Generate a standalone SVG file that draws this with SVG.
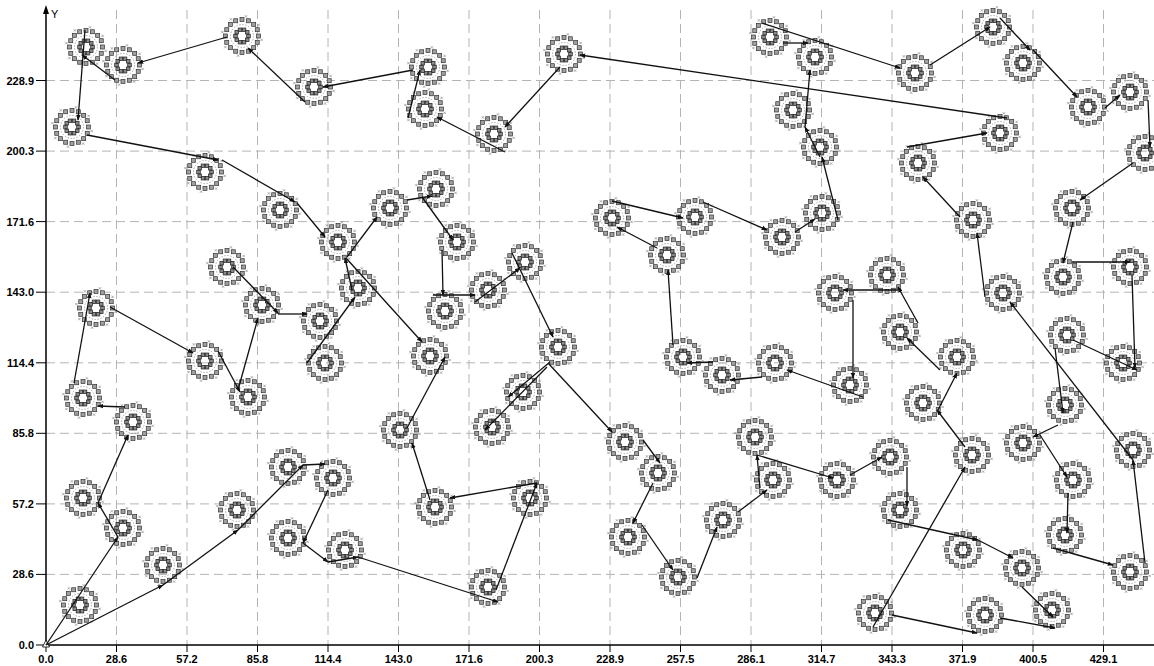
<svg xmlns="http://www.w3.org/2000/svg" xmlns:xlink="http://www.w3.org/1999/xlink" width="1154" height="666" viewBox="0 0 1154 666">
<style>
.g{stroke:#b4b4b4;stroke-width:1;stroke-dasharray:9 5;fill:none}
.ax{stroke:#000;stroke-width:1.5;fill:none}
.tk{stroke:#000;stroke-width:1}
.e{stroke:#111;stroke-width:1.3;fill:none;marker-end:url(#ah)}
.t{font-family:"Liberation Sans",Arial,sans-serif;font-size:11px;font-weight:bold;fill:#000}
.sq{fill:#a0a0a0;stroke:#333;stroke-width:0.7}
.sqi{fill:#8a8a8a;stroke:#222;stroke-width:0.7}
.cx{stroke:#777;stroke-width:0.6;fill:none}
</style>
<defs>
<marker id="ah" viewBox="0 0 8 8" refX="7" refY="4" markerWidth="6" markerHeight="6" orient="auto" markerUnits="userSpaceOnUse"><path d="M0,1L8,4L0,7z" fill="#111"/></marker>
<g id="nd">
<circle r="11.5" fill="none" stroke="#777" stroke-width="0.6" stroke-dasharray="1.5 1.5"/>
<circle r="6.5" fill="none" stroke="#111" stroke-width="1.7"/>
<g class="sqi">
<rect x="4.7" y="-1.8" width="3.6" height="3.6"/><rect x="3.46" y="2.02" width="3.6" height="3.6"/><rect x="0.21" y="4.38" width="3.6" height="3.6"/><rect x="-3.81" y="4.38" width="3.6" height="3.6"/><rect x="-7.06" y="2.02" width="3.6" height="3.6"/><rect x="-8.3" y="-1.8" width="3.6" height="3.6"/><rect x="-7.06" y="-5.62" width="3.6" height="3.6"/><rect x="-3.81" y="-7.98" width="3.6" height="3.6"/><rect x="0.21" y="-7.98" width="3.6" height="3.6"/><rect x="3.46" y="-5.62" width="3.6" height="3.6"/>
</g>
<g class="sq">
<rect x="14.5" y="-2" width="4" height="4"/><rect x="13.24" y="4.31" width="4" height="4"/><rect x="9.67" y="9.67" width="4" height="4"/><rect x="4.31" y="13.24" width="4" height="4"/><rect x="-2" y="14.5" width="4" height="4"/><rect x="-8.31" y="13.24" width="4" height="4"/><rect x="-13.67" y="9.67" width="4" height="4"/><rect x="-17.24" y="4.31" width="4" height="4"/><rect x="-18.5" y="-2" width="4" height="4"/><rect x="-17.24" y="-8.31" width="4" height="4"/><rect x="-13.67" y="-13.67" width="4" height="4"/><rect x="-8.31" y="-17.24" width="4" height="4"/><rect x="-2" y="-18.5" width="4" height="4"/><rect x="4.31" y="-17.24" width="4" height="4"/><rect x="9.67" y="-13.67" width="4" height="4"/><rect x="13.24" y="-8.31" width="4" height="4"/>
</g>
<path class="cx" d="M18.4,2.7l2.4,2.4m0,-2.4l-2.4,2.4M9.9,15.4l2.4,2.4m0,-2.4l-2.4,2.4M-5.1,18.4l2.4,2.4m0,-2.4l-2.4,2.4M-17.8,9.9l2.4,2.4m0,-2.4l-2.4,2.4M-20.8,-5.1l2.4,2.4m0,-2.4l-2.4,2.4M-12.3,-17.8l2.4,2.4m0,-2.4l-2.4,2.4M2.7,-20.8l2.4,2.4m0,-2.4l-2.4,2.4M15.4,-12.3l2.4,2.4m0,-2.4l-2.4,2.4"/>
</g>
</defs>
<rect width="1154" height="666" fill="#fff"/>
<g id="grid">
<path class="g" d="M116.5,10V645M187,10V645M257.5,10V645M328,10V645M398.5,10V645M469,10V645M539.5,10V645M610,10V645M680.5,10V645M751,10V645M821.5,10V645M892,10V645M962.5,10V645M1033,10V645M1103.5,10V645"/>
<path class="g" d="M46,574.4H1154M46,503.9H1154M46,433.3H1154M46,362.8H1154M46,292.2H1154M46,221.6H1154M46,151.1H1154M46,80.5H1154"/>
</g>
<g id="axes">
<path class="ax" d="M46,10V645H1154"/>
<polygon points="46,5 43,14 49,14" fill="#000"/>
<text class="t" x="51" y="18" style="font-weight:normal">Y</text>
<path class="tk" d="M36,645H46M36,574.4H46M36,503.9H46M36,433.3H46M36,362.8H46M36,292.2H46M36,221.6H46M36,151.1H46M36,80.5H46"/>
<path class="tk" d="M46,645V652M116.5,645V652M187,645V652M257.5,645V652M328,645V652M398.5,645V652M469,645V652M539.5,645V652M610,645V652M680.5,645V652M751,645V652M821.5,645V652M892,645V652M962.5,645V652M1033,645V652M1103.5,645V652"/>
<polygon points="46,640 42.5,647 49.5,647" fill="#fff" stroke="#000" stroke-width="0.8"/>
<g class="t" text-anchor="end">
<text x="34" y="649">0.0</text><text x="34" y="578.4">28.6</text><text x="34" y="507.9">57.2</text><text x="34" y="437.3">85.8</text><text x="34" y="366.8">114.4</text><text x="34" y="296.2">143.0</text><text x="34" y="225.6">171.6</text><text x="34" y="155.1">200.3</text><text x="34" y="84.5">228.9</text>
</g>
<g class="t" text-anchor="middle">
<text x="46" y="663">0.0</text><text x="116.5" y="663">28.6</text><text x="187" y="663">57.2</text><text x="257.5" y="663">85.8</text><text x="328" y="663">114.4</text><text x="398.5" y="663">143.0</text><text x="469" y="663">171.6</text><text x="539.5" y="663">200.3</text><text x="610" y="663">228.9</text><text x="680.5" y="663">257.5</text><text x="751" y="663">286.1</text><text x="821.5" y="663">314.7</text><text x="892" y="663">343.3</text><text x="962.5" y="663">371.9</text><text x="1033" y="663">400.5</text><text x="1103.5" y="663">429.1</text>
</g>
</g>
<g id="nodes">
<g id="n1"><use href="#nd" x="86" y="47"/></g>
<g id="n2"><use href="#nd" x="123" y="65"/></g>
<g id="n3"><use href="#nd" x="242" y="36"/></g>
<g id="n4"><use href="#nd" x="314" y="87"/></g>
<g id="n5"><use href="#nd" x="428" y="67"/></g>
<g id="n6"><use href="#nd" x="425" y="109"/></g>
<g id="n7"><use href="#nd" x="494" y="134"/></g>
<g id="n8"><use href="#nd" x="564" y="54"/></g>
<g id="n9"><use href="#nd" x="72" y="127"/></g>
<g id="n10"><use href="#nd" x="205" y="172"/></g>
<g id="n11"><use href="#nd" x="280" y="210"/></g>
<g id="n12"><use href="#nd" x="338" y="242"/></g>
<g id="n13"><use href="#nd" x="390" y="208"/></g>
<g id="n14"><use href="#nd" x="436" y="189"/></g>
<g id="n15"><use href="#nd" x="457" y="242"/></g>
<g id="n16"><use href="#nd" x="358" y="288"/></g>
<g id="n17"><use href="#nd" x="445" y="311"/></g>
<g id="n18"><use href="#nd" x="488" y="290"/></g>
<g id="n19"><use href="#nd" x="525" y="262"/></g>
<g id="n20"><use href="#nd" x="227" y="267"/></g>
<g id="n21"><use href="#nd" x="262" y="305"/></g>
<g id="n22"><use href="#nd" x="320" y="321"/></g>
<g id="n23"><use href="#nd" x="325" y="363"/></g>
<g id="n24"><use href="#nd" x="430" y="356"/></g>
<g id="n25"><use href="#nd" x="96" y="308"/></g>
<g id="n26"><use href="#nd" x="205" y="361"/></g>
<g id="n27"><use href="#nd" x="248" y="397"/></g>
<g id="n28"><use href="#nd" x="83" y="398"/></g>
<g id="n29"><use href="#nd" x="133" y="422"/></g>
<g id="n30"><use href="#nd" x="83" y="498"/></g>
<g id="n31"><use href="#nd" x="123" y="528"/></g>
<g id="n32"><use href="#nd" x="80" y="605"/></g>
<g id="n33"><use href="#nd" x="163" y="565"/></g>
<g id="n34"><use href="#nd" x="237" y="510"/></g>
<g id="n35"><use href="#nd" x="288" y="467"/></g>
<g id="n36"><use href="#nd" x="333" y="478"/></g>
<g id="n37"><use href="#nd" x="288" y="538"/></g>
<g id="n38"><use href="#nd" x="345" y="550"/></g>
<g id="n39"><use href="#nd" x="400" y="430"/></g>
<g id="n40"><use href="#nd" x="435" y="507"/></g>
<g id="n41"><use href="#nd" x="530" y="498"/></g>
<g id="n42"><use href="#nd" x="488" y="587"/></g>
<g id="n43"><use href="#nd" x="492" y="427"/></g>
<g id="n44"><use href="#nd" x="523" y="392"/></g>
<g id="n45"><use href="#nd" x="558" y="347"/></g>
<g id="n46"><use href="#nd" x="612" y="218"/></g>
<g id="n47"><use href="#nd" x="667" y="255"/></g>
<g id="n48"><use href="#nd" x="695" y="217"/></g>
<g id="n49"><use href="#nd" x="683" y="357"/></g>
<g id="n50"><use href="#nd" x="722" y="375"/></g>
<g id="n51"><use href="#nd" x="775" y="363"/></g>
<g id="n52"><use href="#nd" x="782" y="237"/></g>
<g id="n53"><use href="#nd" x="822" y="213"/></g>
<g id="n54"><use href="#nd" x="835" y="293"/></g>
<g id="n55"><use href="#nd" x="850" y="385"/></g>
<g id="n56"><use href="#nd" x="887" y="275"/></g>
<g id="n57"><use href="#nd" x="900" y="332"/></g>
<g id="n58"><use href="#nd" x="957" y="357"/></g>
<g id="n59"><use href="#nd" x="923" y="403"/></g>
<g id="n60"><use href="#nd" x="972" y="455"/></g>
<g id="n61"><use href="#nd" x="890" y="457"/></g>
<g id="n62"><use href="#nd" x="837" y="480"/></g>
<g id="n63"><use href="#nd" x="773" y="480"/></g>
<g id="n64"><use href="#nd" x="755" y="437"/></g>
<g id="n65"><use href="#nd" x="723" y="520"/></g>
<g id="n66"><use href="#nd" x="678" y="577"/></g>
<g id="n67"><use href="#nd" x="628" y="537"/></g>
<g id="n68"><use href="#nd" x="658" y="473"/></g>
<g id="n69"><use href="#nd" x="625" y="442"/></g>
<g id="n70"><use href="#nd" x="770" y="37"/></g>
<g id="n71"><use href="#nd" x="815" y="57"/></g>
<g id="n72"><use href="#nd" x="793" y="110"/></g>
<g id="n73"><use href="#nd" x="820" y="147"/></g>
<g id="n74"><use href="#nd" x="915" y="73"/></g>
<g id="n75"><use href="#nd" x="993" y="27"/></g>
<g id="n76"><use href="#nd" x="1023" y="63"/></g>
<g id="n77"><use href="#nd" x="1000" y="133"/></g>
<g id="n78"><use href="#nd" x="918" y="163"/></g>
<g id="n79"><use href="#nd" x="973" y="220"/></g>
<g id="n80"><use href="#nd" x="1003" y="293"/></g>
<g id="n81"><use href="#nd" x="1088" y="107"/></g>
<g id="n82"><use href="#nd" x="1130" y="92"/></g>
<g id="n83"><use href="#nd" x="1145" y="153"/></g>
<g id="n84"><use href="#nd" x="1072" y="208"/></g>
<g id="n85"><use href="#nd" x="1063" y="277"/></g>
<g id="n86"><use href="#nd" x="1130" y="267"/></g>
<g id="n87"><use href="#nd" x="1067" y="335"/></g>
<g id="n88"><use href="#nd" x="1123" y="363"/></g>
<g id="n89"><use href="#nd" x="1065" y="405"/></g>
<g id="n90"><use href="#nd" x="1023" y="443"/></g>
<g id="n91"><use href="#nd" x="1073" y="480"/></g>
<g id="n92"><use href="#nd" x="1065" y="535"/></g>
<g id="n93"><use href="#nd" x="1130" y="572"/></g>
<g id="n94"><use href="#nd" x="1133" y="450"/></g>
<g id="n95"><use href="#nd" x="1052" y="610"/></g>
<g id="n96"><use href="#nd" x="1022" y="568"/></g>
<g id="n97"><use href="#nd" x="985" y="615"/></g>
<g id="n98"><use href="#nd" x="963" y="550"/></g>
<g id="n99"><use href="#nd" x="900" y="510"/></g>
<g id="n100"><use href="#nd" x="875" y="613"/></g>
</g>
<g id="connectors">
<line class="e" x1="46" y1="645" x2="118" y2="537"/>
<line class="e" x1="118" y1="537" x2="98" y2="503"/>
<line class="e" x1="98" y1="503" x2="128" y2="435"/>
<line class="e" x1="125" y1="407" x2="98" y2="406"/>
<line class="e" x1="74" y1="383" x2="90" y2="293"/>
<line class="e" x1="110" y1="307" x2="193" y2="353"/>
<line class="e" x1="218" y1="351" x2="240" y2="392"/>
<line class="e" x1="238" y1="390" x2="258" y2="318"/>
<line class="e" x1="233" y1="267" x2="278" y2="313"/>
<line class="e" x1="278" y1="314" x2="307" y2="314"/>
<line class="e" x1="307" y1="363" x2="355" y2="297"/>
<line class="e" x1="352" y1="290" x2="345" y2="258"/>
<line class="e" x1="297" y1="203" x2="325" y2="237"/>
<line class="e" x1="346" y1="258" x2="422" y2="342"/>
<line class="e" x1="347" y1="257" x2="377" y2="217"/>
<line class="e" x1="407" y1="200" x2="432" y2="196"/>
<line class="e" x1="422" y1="197" x2="453" y2="240"/>
<line class="e" x1="442" y1="250" x2="443" y2="295"/>
<line class="e" x1="433" y1="295" x2="475" y2="295"/>
<line class="e" x1="475" y1="302" x2="520" y2="268"/>
<line class="e" x1="512" y1="253" x2="553" y2="337"/>
<line class="e" x1="548" y1="363" x2="612" y2="432"/>
<line class="e" x1="550" y1="362" x2="508" y2="397"/>
<line class="e" x1="547" y1="367" x2="485" y2="430"/>
<line class="e" x1="643" y1="440" x2="660" y2="463"/>
<line class="e" x1="653" y1="483" x2="633" y2="523"/>
<line class="e" x1="642" y1="525" x2="673" y2="570"/>
<line class="e" x1="697" y1="578" x2="717" y2="527"/>
<line class="e" x1="738" y1="512" x2="767" y2="490"/>
<line class="e" x1="760" y1="488" x2="757" y2="455"/>
<line class="e" x1="757" y1="455" x2="833" y2="478"/>
<line class="e" x1="850" y1="475" x2="882" y2="457"/>
<line class="e" x1="907" y1="467" x2="907" y2="506"/>
<line class="e" x1="888" y1="520" x2="978" y2="540"/>
<line class="e" x1="978" y1="540" x2="1013" y2="558"/>
<line class="e" x1="1022" y1="587" x2="1053" y2="617"/>
<line class="e" x1="1000" y1="618" x2="1055" y2="628"/>
<line class="e" x1="892" y1="615" x2="977" y2="633"/>
<line class="e" x1="873" y1="627" x2="965" y2="467"/>
<line class="e" x1="965" y1="447" x2="937" y2="410"/>
<line class="e" x1="938" y1="410" x2="957" y2="373"/>
<line class="e" x1="940" y1="370" x2="907" y2="338"/>
<line class="e" x1="918" y1="323" x2="898" y2="287"/>
<line class="e" x1="898" y1="290" x2="843" y2="290"/>
<line class="e" x1="853" y1="300" x2="853" y2="378"/>
<line class="e" x1="863" y1="397" x2="787" y2="370"/>
<line class="e" x1="762" y1="377" x2="730" y2="380"/>
<line class="e" x1="713" y1="362" x2="687" y2="363"/>
<line class="e" x1="673" y1="345" x2="668" y2="270"/>
<line class="e" x1="657" y1="248" x2="617" y2="227"/>
<line class="e" x1="612" y1="201" x2="683" y2="218"/>
<line class="e" x1="703" y1="202" x2="767" y2="230"/>
<line class="e" x1="795" y1="232" x2="815" y2="219"/>
<line class="e" x1="838" y1="220" x2="822" y2="157"/>
<line class="e" x1="820" y1="157" x2="805" y2="127"/>
<line class="e" x1="805" y1="127" x2="810" y2="70"/>
<line class="e" x1="783" y1="43" x2="808" y2="43"/>
<line class="e" x1="762" y1="23" x2="900" y2="68"/>
<line class="e" x1="930" y1="65" x2="990" y2="27"/>
<line class="e" x1="1000" y1="18" x2="1030" y2="50"/>
<line class="e" x1="1033" y1="50" x2="1077" y2="97"/>
<line class="e" x1="1105" y1="108" x2="1120" y2="95"/>
<line class="e" x1="1148" y1="100" x2="1150" y2="147"/>
<line class="e" x1="1133" y1="163" x2="1080" y2="200"/>
<line class="e" x1="1073" y1="222" x2="1063" y2="263"/>
<line class="e" x1="1072" y1="262" x2="1130" y2="262"/>
<line class="e" x1="1132" y1="275" x2="1135" y2="368"/>
<line class="e" x1="1073" y1="340" x2="1137" y2="370"/>
<line class="e" x1="1055" y1="348" x2="1063" y2="413"/>
<line class="e" x1="1058" y1="425" x2="1033" y2="437"/>
<line class="e" x1="1040" y1="435" x2="1067" y2="477"/>
<line class="e" x1="1068" y1="493" x2="1067" y2="533"/>
<line class="e" x1="1053" y1="548" x2="1113" y2="565"/>
<line class="e" x1="1145" y1="563" x2="1133" y2="460"/>
<line class="e" x1="1133" y1="460" x2="1010" y2="302"/>
<line class="e" x1="985" y1="297" x2="977" y2="233"/>
<line class="e" x1="960" y1="217" x2="923" y2="177"/>
<line class="e" x1="907" y1="147" x2="987" y2="133"/>
<line class="e" x1="1007" y1="118" x2="580" y2="55"/>
<line class="e" x1="560" y1="67" x2="505" y2="127"/>
<line class="e" x1="505" y1="152" x2="437" y2="117"/>
<line class="e" x1="408" y1="118" x2="420" y2="70"/>
<line class="e" x1="413" y1="70" x2="323" y2="87"/>
<line class="e" x1="305" y1="102" x2="248" y2="48"/>
<line class="e" x1="227" y1="37" x2="138" y2="63"/>
<line class="e" x1="115" y1="80" x2="82" y2="55"/>
<line class="e" x1="85" y1="30" x2="78" y2="120"/>
<line class="e" x1="87" y1="135" x2="218" y2="160"/>
<line class="e" x1="222" y1="160" x2="295" y2="202"/>
<line class="e" x1="46" y1="645" x2="163" y2="585"/>
<line class="e" x1="163" y1="585" x2="238" y2="530"/>
<line class="e" x1="238" y1="530" x2="303" y2="465"/>
<line class="e" x1="303" y1="465" x2="325" y2="464"/>
<line class="e" x1="328" y1="490" x2="303" y2="543"/>
<line class="e" x1="303" y1="543" x2="328" y2="562"/>
<line class="e" x1="328" y1="562" x2="358" y2="557"/>
<line class="e" x1="358" y1="557" x2="498" y2="602"/>
<line class="e" x1="496" y1="590" x2="537" y2="483"/>
<line class="e" x1="537" y1="483" x2="450" y2="498"/>
<line class="e" x1="430" y1="500" x2="412" y2="443"/>
<line class="e" x1="407" y1="428" x2="445" y2="357"/>
</g>
</svg>
